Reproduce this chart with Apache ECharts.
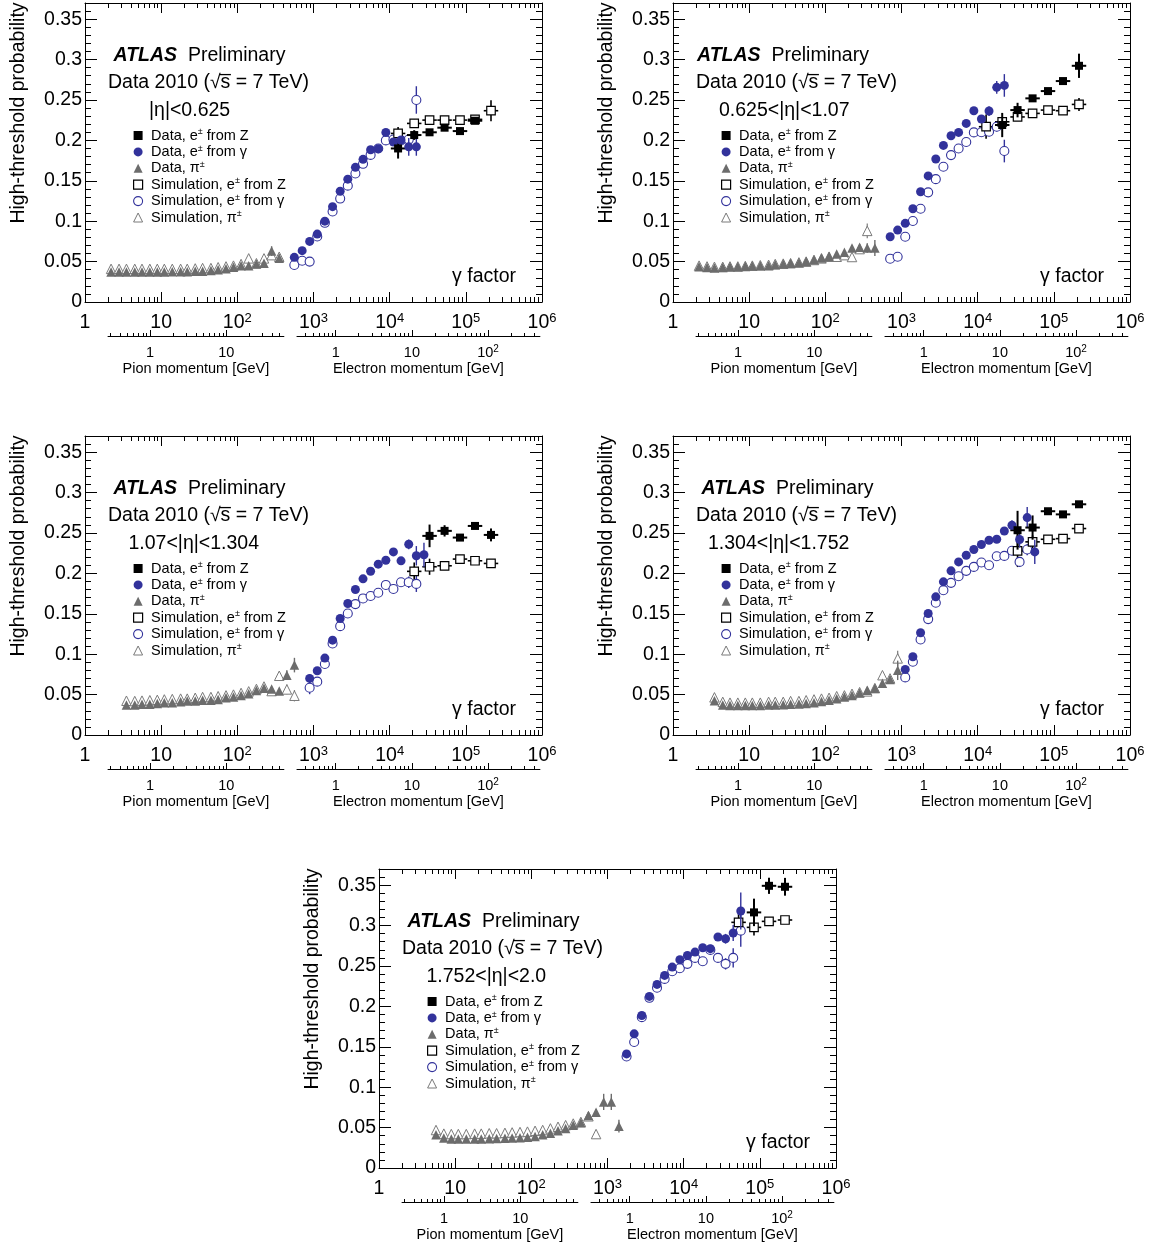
<!DOCTYPE html>
<html>
<head>
<meta charset="utf-8">
<title>TRT high-threshold probability vs gamma factor</title>
<script src="https://cdn.jsdelivr.net/npm/echarts@6/dist/echarts.min.js"></script>
<style>
  html, body { margin: 0; padding: 0; background: #ffffff; }
  #chart { width: 1150px; height: 1247px; }
</style>
</head>
<body>
<div id="chart"></div>
<script>
// ---------------------------------------------------------------------------
// Measured high-threshold hit probability per |eta| region
// ---------------------------------------------------------------------------
const zGamma = [12900, 21000, 33400, 52600, 83800, 132000, 214000];

// |eta| < 0.625
const p1PionGamma = [2.2, 2.8, 3.5, 4.5, 5.6, 7.1, 8.9, 11, 14, 18, 22, 28, 35, 45, 56, 71, 89, 112, 141, 178, 224, 282, 355];
const p1PionData = [0.037, 0.037, 0.037, 0.037, 0.037, 0.037, 0.037, 0.037, 0.0375, 0.0375, 0.0375, 0.038, 0.038, 0.039, 0.040, 0.041, 0.043, 0.045, 0.045, 0.047, 0.048, 0.063, 0.054];
const p1PionDataErr = [0, 0, 0, 0, 0, 0, 0, 0, 0, 0, 0, 0, 0, 0, 0, 0, 0, 0, 0, 0, 0.002, 0.006, 0.005];
const p1PionSim = [0.041, 0.041, 0.041, 0.041, 0.041, 0.041, 0.041, 0.041, 0.041, 0.041, 0.041, 0.0415, 0.042, 0.042, 0.043, 0.044, 0.045, 0.047, 0.054, 0.048, 0.054, 0.058, 0.056];
const p1PionSimErr = [0, 0, 0, 0, 0, 0, 0, 0, 0, 0, 0, 0, 0, 0, 0, 0, 0, 0, 0, 0, 0, 0.004, 0.004];
const p1ElecGamma = [560, 710, 890, 1120, 1410, 1780, 2240, 2820, 3550, 4470, 5620, 7080, 8910, 11200, 14100, 17800, 22400];
const p1ElecData = [0.0553, 0.0635, 0.075, 0.084, 0.100, 0.118, 0.137, 0.152, 0.1666, 0.1765, 0.1884, 0.1897, 0.2099, 0.198, 0.2004, 0.192, 0.192];
const p1ElecDataErr = [0.002, 0.002, 0.001, 0.001, 0.001, 0.001, 0.001, 0.001, 0.001, 0.001, 0.001, 0.001, 0.002, 0.003, 0.005, 0.011, 0.011];
const p1ElecSim = [0.0458, 0.051, 0.050, 0.081, 0.098, 0.112, 0.128, 0.144, 0.159, 0.171, 0.182, 0.190, 0.200, 0.201, 0.200, 0.201, 0.250];
const p1ElecSimErr = [0.002, 0.002, 0.001, 0.001, 0.001, 0.001, 0.001, 0.001, 0.001, 0.001, 0.001, 0.001, 0.002, 0.003, 0.004, 0.005, 0.017];
const p1ZData = [0.190, 0.2066, 0.210, 0.2157, 0.2115, 0.2243, null];
const p1ZDataErr = [0.0125, 0.006, 0.003, 0.003, 0.003, 0.004, 0];
const p1ZSim = [0.2086, 0.221, 0.2251, 0.2251, 0.2251, 0.226, 0.2367];
const p1ZSimErr = [0.008, 0.005, 0.002, 0.002, 0.002, 0.003, 0.013];

// 0.625 < |eta| < 1.07
const p2PionGamma = [2.2, 2.8, 3.5, 4.5, 5.6, 7.1, 8.9, 11, 14, 18, 22, 28, 35, 45, 56, 71, 89, 112, 141, 178, 224, 282, 355, 447];
const p2PionData = [0.0437, 0.0428, 0.0421, 0.0428, 0.0437, 0.0437, 0.0441, 0.0445, 0.0449, 0.0449, 0.0462, 0.047, 0.048, 0.0487, 0.050, 0.0524, 0.0545, 0.0566, 0.0594, 0.0615, 0.0668, 0.0676, 0.0668, 0.0668];
const p2PionDataErr = [0, 0, 0, 0, 0, 0, 0, 0, 0, 0, 0, 0, 0, 0, 0, 0, 0, 0, 0, 0.002, 0.003, 0.004, 0.006, 0.010];
const p2PionSim = [0.045, 0.044, 0.0435, 0.0435, 0.044, 0.044, 0.0445, 0.045, 0.0455, 0.046, 0.047, 0.0475, 0.048, 0.049, 0.050, 0.052, 0.054, 0.056, 0.056, 0.058, 0.0557, 0.0655, 0.088, null];
const p2PionSimErr = [0, 0, 0, 0, 0, 0, 0, 0, 0, 0, 0, 0, 0, 0, 0, 0, 0, 0, 0, 0, 0.003, 0.005, 0.009, 0];
const p2ElecGamma = [710, 890, 1120, 1410, 1780, 2240, 2820, 3550, 4470, 5620, 7080, 8910, 11200, 14100, 17800, 22400];
const p2ElecData = [0.0808, 0.089, 0.0973, 0.1154, 0.1365, 0.156, 0.177, 0.1938, 0.2057, 0.2099, 0.221, 0.2367, 0.2264, 0.2363, 0.2656, 0.268];
const p2ElecDataErr = [0.002, 0.002, 0.002, 0.001, 0.001, 0.001, 0.001, 0.001, 0.001, 0.001, 0.002, 0.002, 0.005, 0.006, 0.008, 0.014];
const p2ElecSim = [0.0536, 0.056, 0.0808, 0.1002, 0.1154, 0.1357, 0.152, 0.1674, 0.1818, 0.190, 0.198, 0.2099, 0.21, 0.2107, 0.2169, 0.1868];
const p2ElecSimErr = [0.002, 0.002, 0.002, 0.001, 0.001, 0.001, 0.001, 0.001, 0.001, 0.001, 0.002, 0.002, 0.003, 0.004, 0.006, 0.014];
const p2ZData = [null, 0.219, 0.2375, 0.252, 0.261, 0.2734, 0.2923];
const p2ZDataErr = [0, 0.015, 0.009, 0.004, 0.003, 0.003, 0.015];
const p2ZSim = [0.2169, 0.223, 0.229, 0.2334, 0.2375, 0.2367, 0.2445];
const p2ZSimErr = [0.015, 0.006, 0.004, 0.003, 0.003, 0.003, 0.008];

// 1.07 < |eta| < 1.304
const p3PionGamma = [3.5, 4.5, 5.6, 7.1, 8.9, 11, 14, 18, 22, 28, 35, 45, 56, 71, 89, 112, 141, 178, 224, 282, 355, 447, 562];
const p3PionData = [0.037, 0.037, 0.038, 0.038, 0.039, 0.040, 0.040, 0.041, 0.042, 0.042, 0.043, 0.043, 0.044, 0.046, 0.047, 0.049, 0.051, 0.055, 0.058, 0.057, 0.0545, 0.074, 0.0865];
const p3PionDataErr = [0, 0, 0, 0, 0, 0, 0, 0, 0, 0, 0, 0, 0, 0, 0, 0, 0, 0, 0, 0, 0, 0.006, 0.009];
const p3PionSim = [0.0424, 0.042, 0.0425, 0.043, 0.0435, 0.044, 0.0445, 0.045, 0.045, 0.046, 0.047, 0.047, 0.048, 0.049, 0.050, 0.052, 0.054, 0.057, 0.060, 0.0544, 0.0733, 0.0564, 0.0486];
const p3PionSimErr = [0, 0, 0, 0, 0, 0, 0, 0, 0, 0, 0, 0, 0, 0, 0, 0, 0, 0, 0, 0, 0.004, 0.006, 0.007];
const p3ElecGamma = [890, 1120, 1410, 1780, 2240, 2820, 3550, 4470, 5620, 7080, 8910, 11200, 14100, 17800, 22400, 28200];
const p3ElecData = [0.070, 0.0795, 0.0952, 0.1174, 0.1442, 0.1627, 0.180, 0.1932, 0.2027, 0.2114, 0.2163, 0.2266, 0.2155, 0.236, 0.2218, 0.223];
const p3ElecDataErr = [0.005, 0.002, 0.002, 0.001, 0.001, 0.001, 0.001, 0.001, 0.001, 0.001, 0.002, 0.002, 0.003, 0.006, 0.012, 0.015];
const p3ElecSim = [0.0585, 0.066, 0.0878, 0.1133, 0.1347, 0.1504, 0.162, 0.169, 0.172, 0.176, 0.1857, 0.1807, 0.189, 0.189, 0.187, null];
const p3ElecSimErr = [0.008, 0.003, 0.002, 0.001, 0.001, 0.001, 0.001, 0.001, 0.001, 0.001, 0.002, 0.002, 0.004, 0.007, 0.010, 0];
const p3ZData = [null, null, 0.2464, 0.2526, 0.2443, 0.2587, 0.2476];
const p3ZDataErr = [0, 0, 0.014, 0.007, 0.003, 0.003, 0.008];
const p3ZSim = [null, 0.2025, 0.2082, 0.2094, 0.2177, 0.2156, 0.2123];
const p3ZSimErr = [0, 0.011, 0.010, 0.004, 0.003, 0.003, 0.004];

// 1.304 < |eta| < 1.752
const p4PionGamma = [3.5, 4.5, 5.6, 7.1, 8.9, 11, 14, 18, 22, 28, 35, 45, 56, 71, 89, 112, 141, 178, 224, 282, 355, 447, 562, 708, 891];
const p4PionData = [0.0424, 0.037, 0.0365, 0.0365, 0.0365, 0.0365, 0.0365, 0.037, 0.037, 0.0375, 0.038, 0.0385, 0.039, 0.040, 0.0415, 0.043, 0.045, 0.047, 0.049, 0.052, 0.0555, 0.058, 0.0639, 0.0688, 0.080];
const p4PionDataErr = [0, 0, 0, 0, 0, 0, 0, 0, 0, 0, 0, 0, 0, 0, 0, 0, 0, 0, 0, 0, 0, 0, 0.003, 0.004, 0.012];
const p4PionSim = [0.0466, 0.041, 0.040, 0.040, 0.040, 0.040, 0.040, 0.041, 0.041, 0.041, 0.042, 0.042, 0.043, 0.044, 0.045, 0.046, 0.048, 0.049, 0.051, 0.053, 0.054, 0.058, 0.074, 0.070, 0.0948];
const p4PionSimErr = [0, 0, 0, 0, 0, 0, 0, 0, 0, 0, 0, 0, 0, 0, 0, 0, 0, 0, 0, 0, 0, 0, 0.004, 0.004, 0.0096];
const p4ElecGamma = [1120, 1410, 1780, 2240, 2820, 3550, 4470, 5620, 7080, 8910, 11200, 14100, 17800, 22400, 28200, 35500, 44700, 56200];
const p4ElecData = [0.0812, 0.0968, 0.1265, 0.1504, 0.171, 0.1895, 0.2031, 0.2142, 0.2225, 0.2295, 0.2357, 0.241, 0.2423, 0.2525, 0.2596, 0.2419, 0.269, 0.2266];
const p4ElecDataErr = [0.002, 0.002, 0.001, 0.001, 0.001, 0.001, 0.001, 0.001, 0.001, 0.001, 0.002, 0.002, 0.002, 0.003, 0.006, 0.010, 0.013, 0.015];
const p4ElecSim = [0.0713, 0.0906, 0.1182, 0.1434, 0.1636, 0.1792, 0.1883, 0.1965, 0.2031, 0.208, 0.2134, 0.210, 0.2212, 0.2216, 0.228, 0.2142, 0.2295, null];
const p4ElecSimErr = [0.002, 0.002, 0.001, 0.001, 0.001, 0.001, 0.001, 0.001, 0.001, 0.001, 0.002, 0.002, 0.002, 0.003, 0.004, 0.006, 0.007, 0];
const p4ZData = [null, null, 0.2534, 0.2567, 0.2769, 0.273, 0.2855];
const p4ZDataErr = [0, 0, 0.024, 0.015, 0.004, 0.003, 0.004];
const p4ZSim = [null, null, 0.2278, 0.239, 0.2422, 0.243, 0.2555];
const p4ZSimErr = [0, 0, 0.020, 0.008, 0.003, 0.003, 0.003];

// 1.752 < |eta| < 2.0
const p5PionGamma = [5.6, 7.1, 8.9, 11, 14, 18, 22, 28, 35, 45, 56, 71, 89, 112, 141, 178, 224, 282, 355, 447, 562, 708, 891, 1122, 1413];
const p5PionData = [0.0413, 0.037, 0.036, 0.036, 0.036, 0.036, 0.036, 0.0362, 0.0365, 0.0368, 0.037, 0.0375, 0.038, 0.039, 0.041, 0.043, 0.046, 0.049, 0.053, 0.056, 0.065, 0.069, 0.0818, 0.0818, 0.0518];
const p5PionDataErr = [0, 0, 0, 0, 0, 0, 0, 0, 0, 0, 0, 0, 0, 0, 0, 0, 0, 0, 0, 0, 0, 0.004, 0.010, 0.010, 0.008];
const p5PionSim = [0.047, 0.0425, 0.042, 0.042, 0.042, 0.0425, 0.0425, 0.043, 0.043, 0.0435, 0.044, 0.0445, 0.045, 0.046, 0.047, 0.049, 0.051, 0.053, 0.055, 0.057, 0.064, 0.042, null, null, null];
const p5PionSimErr = [0, 0, 0, 0, 0, 0, 0, 0, 0, 0, 0, 0, 0, 0, 0, 0, 0, 0, 0, 0, 0.003, 0.003, 0, 0, 0];
const p5ElecGamma = [1780, 2240, 2820, 3550, 4470, 5620, 7080, 8910, 11200, 14100, 17800, 22400, 28200, 35500, 44700, 56200];
const p5ElecData = [0.1412, 0.166, 0.1887, 0.2123, 0.2272, 0.2383, 0.2486, 0.2577, 0.2631, 0.2672, 0.2726, 0.2714, 0.2858, 0.2837, 0.2908, 0.318];
const p5ElecDataErr = [0.002, 0.002, 0.002, 0.001, 0.001, 0.001, 0.001, 0.001, 0.002, 0.002, 0.002, 0.003, 0.004, 0.006, 0.010, 0.023];
const p5ElecSim = [0.138, 0.1559, 0.1867, 0.2106, 0.223, 0.234, 0.2435, 0.2472, 0.2526, 0.26, 0.2558, 0.2699, 0.26, 0.2526, 0.26, 0.2937];
const p5ElecSimErr = [0.002, 0.002, 0.002, 0.001, 0.001, 0.001, 0.001, 0.001, 0.002, 0.002, 0.002, 0.003, 0.004, 0.007, 0.012, 0.020];
const p5ZData = [null, null, null, null, 0.3163, 0.3492, 0.348];
const p5ZDataErr = [0, 0, 0, 0, 0.017, 0.010, 0.011];
const p5ZSim = [null, null, null, 0.304, 0.2978, 0.3052, 0.3069];
const p5ZSimErr = [0, 0, 0, 0.012, 0.010, 0.004, 0.005];

// Axis tick values
const yTickLabels = [0, 0.05, 0.1, 0.15, 0.2, 0.25, 0.3, 0.35];
const pionMomentumMajor = [1, 10];
const pionMomentumMinor = [0.3, 0.4, 0.5, 0.6, 0.7, 0.8, 0.9, 2, 3, 4, 5, 6, 7, 8, 9, 20, 30, 40, 50];
const electronMomentumMajor = [1, 10, 100];
const electronMomentumMinor = [0.4, 0.5, 0.6, 0.7, 0.8, 0.9, 2, 3, 4, 5, 6, 7, 8, 9, 20, 30, 40, 50, 60, 70, 80, 90, 200, 300, 400];
const etaLabels = ['|η|<0.625', '0.625<|η|<1.07', '1.07<|η|<1.304', '1.304<|η|<1.752', '1.752<|η|<2.0'];

// ---------------------------------------------------------------------------
// Physics constants and layout
// ---------------------------------------------------------------------------
const PION_MASS = 0.13957;        // GeV
const ELECTRON_MASS = 0.000511;   // GeV
const PION_P_RANGE = [0.28, 57];
const ELECTRON_P_RANGE = [0.31, 480];
const Y_MAX = 0.37;
const Z_BIN_HALF_DEX = 0.095;

const CHART_W = 1150;
const FONT = 'Liberation Sans';
const BLUE = '#32329b';
const GREY = '#6c6c6c';
const GREY_SIM = '#7a7a7a';
const PANEL_ORIGINS = [[0, 0], [588, 0], [0, 433], [588, 433], [294, 866]];
const FRAME = { left: 85, top: 3, width: 457, height: 299 };
const ATLAS_X = [28.5, 24, 28.5, 28.5, 28.5];
const ETA_X = [64, 46, 43.5, 35, 47.5];

const panels = [
  { pionGamma: p1PionGamma, pionData: p1PionData, pionDataErr: p1PionDataErr, pionSim: p1PionSim, pionSimErr: p1PionSimErr,
    elecGamma: p1ElecGamma, elecData: p1ElecData, elecDataErr: p1ElecDataErr, elecSim: p1ElecSim, elecSimErr: p1ElecSimErr,
    zData: p1ZData, zDataErr: p1ZDataErr, zSim: p1ZSim, zSimErr: p1ZSimErr },
  { pionGamma: p2PionGamma, pionData: p2PionData, pionDataErr: p2PionDataErr, pionSim: p2PionSim, pionSimErr: p2PionSimErr,
    elecGamma: p2ElecGamma, elecData: p2ElecData, elecDataErr: p2ElecDataErr, elecSim: p2ElecSim, elecSimErr: p2ElecSimErr,
    zData: p2ZData, zDataErr: p2ZDataErr, zSim: p2ZSim, zSimErr: p2ZSimErr },
  { pionGamma: p3PionGamma, pionData: p3PionData, pionDataErr: p3PionDataErr, pionSim: p3PionSim, pionSimErr: p3PionSimErr,
    elecGamma: p3ElecGamma, elecData: p3ElecData, elecDataErr: p3ElecDataErr, elecSim: p3ElecSim, elecSimErr: p3ElecSimErr,
    zData: p3ZData, zDataErr: p3ZDataErr, zSim: p3ZSim, zSimErr: p3ZSimErr },
  { pionGamma: p4PionGamma, pionData: p4PionData, pionDataErr: p4PionDataErr, pionSim: p4PionSim, pionSimErr: p4PionSimErr,
    elecGamma: p4ElecGamma, elecData: p4ElecData, elecDataErr: p4ElecDataErr, elecSim: p4ElecSim, elecSimErr: p4ElecSimErr,
    zData: p4ZData, zDataErr: p4ZDataErr, zSim: p4ZSim, zSimErr: p4ZSimErr },
  { pionGamma: p5PionGamma, pionData: p5PionData, pionDataErr: p5PionDataErr, pionSim: p5PionSim, pionSimErr: p5PionSimErr,
    elecGamma: p5ElecGamma, elecData: p5ElecData, elecDataErr: p5ElecDataErr, elecSim: p5ElecSim, elecSimErr: p5ElecSimErr,
    zData: p5ZData, zDataErr: p5ZDataErr, zSim: p5ZSim, zSimErr: p5ZSimErr }
];

const SERIES_NAMES = {
  zData: 'Data, e± from Z',
  gData: 'Data, e± from γ',
  piData: 'Data, π±',
  zSim: 'Simulation, e± from Z',
  gSim: 'Simulation, e± from γ',
  piSim: 'Simulation, π±'
};
const LEGEND_ORDER = ['zData', 'gData', 'piData', 'zSim', 'gSim', 'piSim'];

const OPEN_FILL = 'rgba(255,255,255,1)';
const MARKERS = {
  piSim:  { symbol: 'triangle', size: 9.5, z: 2, item: { color: OPEN_FILL, borderColor: GREY_SIM, borderWidth: 1 },   err: GREY_SIM, errW: 1.2 },
  gSim:   { symbol: 'circle',   size: 9,   z: 2, item: { color: OPEN_FILL, borderColor: BLUE, borderWidth: 1.1 },     err: BLUE, errW: 1.4 },
  zSim:   { symbol: 'rect',     size: 8.5, z: 2, item: { color: OPEN_FILL, borderColor: '#000', borderWidth: 1.2 },   err: '#000', errW: 1.6 },
  piData: { symbol: 'triangle', size: 9.5, z: 4, item: { color: GREY },  err: GREY, errW: 1.4 },
  gData:  { symbol: 'circle',   size: 9,   z: 4, item: { color: BLUE },  err: BLUE, errW: 1.4 },
  zData:  { symbol: 'rect',     size: 8,   z: 4, item: { color: '#000' }, err: '#000', errW: 2 }
};

// ---------------------------------------------------------------------------
// Helpers
// ---------------------------------------------------------------------------
function toPoints(gammas, values, errs, halfDex) {
  const out = [];
  gammas.forEach((g, k) => {
    if (values[k] !== null && values[k] !== undefined) out.push([g, values[k], errs[k] || 0, halfDex]);
  });
  return out;
}

function errorBarRenderer(color, width) {
  return function (params, api) {
    const g = api.value(0), v = api.value(1), e = api.value(2), h = api.value(3);
    const style = { stroke: color, lineWidth: width };
    const children = [];
    if (e > 0) {
      const a = api.coord([g, v - e]), b = api.coord([g, v + e]);
      children.push({ type: 'line', shape: { x1: a[0], y1: a[1], x2: b[0], y2: b[1] }, style });
    }
    if (h > 0) {
      const a = api.coord([g * Math.pow(10, -h), v]), b = api.coord([g * Math.pow(10, h), v]);
      children.push({ type: 'line', shape: { x1: a[0], y1: a[1], x2: b[0], y2: b[1] }, style });
    }
    return { type: 'group', children };
  };
}

const gammaLabel = (v) => {
  const e = Math.round(Math.log10(v));
  if (e === 0) return '{b|1}';
  if (e === 1) return '{b|10}';
  return '{b|10}{s|' + e + '}';
};
const momentumLabel = (v) => {
  const e = Math.round(v);
  if (e === 0) return '{b|1}';
  if (e === 1) return '{b|10}';
  return '{b|10}{s|' + e + '}';
};

const bigRich = {
  b: { fontFamily: FONT, fontSize: 19.5, lineHeight: 22, color: '#000' },
  s: { fontFamily: FONT, fontSize: 13, lineHeight: 8, verticalAlign: 'top', color: '#000' }
};
const smallRich = {
  b: { fontFamily: FONT, fontSize: 14.5, lineHeight: 17, color: '#000' },
  s: { fontFamily: FONT, fontSize: 10, lineHeight: 6, verticalAlign: 'top', color: '#000' }
};

// minor tick positions in decades for the gamma axis
const gammaMinorDex = [];
for (let k = 0; k < 6; k++) for (let m = 2; m <= 9; m++) gammaMinorDex.push(k + Math.log10(m));
const yMinorTicks = [];
for (let v = 1; v <= 36; v++) if (v % 5 !== 0) yMinorTicks.push(v / 100);

const axisLineOn = { show: true, onZero: false, lineStyle: { color: '#000', width: 1 } };
const axisLineOff = { show: false, onZero: false };
const tickStyle = { color: '#000', width: 1 };

// ---------------------------------------------------------------------------
// Build option
// ---------------------------------------------------------------------------
const option = {
  animation: false,
  backgroundColor: '#ffffff',
  textStyle: { fontFamily: FONT },
  grid: [], xAxis: [], yAxis: [], series: [], title: [], legend: []
};
const addX = (a) => option.xAxis.push(a) - 1;
const addY = (a) => option.yAxis.push(a) - 1;
const addGrid = (g) => option.grid.push(Object.assign({ containLabel: false, outerBoundsMode: 'none' }, g)) - 1;

function minorX(gridIndex, position, min, max, values, length) {
  return addX({
    type: 'value', gridIndex, position, min, max,
    axisLine: axisLineOff,
    axisTick: { show: true, inside: true, length, customValues: values, lineStyle: tickStyle },
    axisLabel: { show: false }, splitLine: { show: false }, minorTick: { show: false }
  });
}
function tickY(gridIndex, position, values, length, withLine) {
  return addY({
    type: 'value', gridIndex, position, min: 0, max: Y_MAX,
    axisLine: withLine ? axisLineOn : axisLineOff,
    axisTick: { show: true, inside: true, length, customValues: values, lineStyle: tickStyle },
    axisLabel: { show: false }, splitLine: { show: false }, minorTick: { show: false }
  });
}

panels.forEach((pd, i) => {
  const [ox, oy] = PANEL_ORIGINS[i];
  const L = ox + FRAME.left, T = oy + FRAME.top, W = FRAME.width, H = FRAME.height;
  const pxPerDex = W / 6;

  const gMain = addGrid({ left: L, top: T, width: W, height: H });
  const momTop = T + H + 33;
  const pionL = L + Math.log10(PION_P_RANGE[0] / PION_MASS) * pxPerDex;
  const pionR = L + Math.log10(PION_P_RANGE[1] / PION_MASS) * pxPerDex;
  const elecL = L + Math.log10(ELECTRON_P_RANGE[0] / ELECTRON_MASS) * pxPerDex;
  const elecR = L + Math.log10(ELECTRON_P_RANGE[1] / ELECTRON_MASS) * pxPerDex;
  const gPion = addGrid({ left: pionL, top: momTop, width: pionR - pionL, height: 1 });
  const gElec = addGrid({ left: elecL, top: momTop, width: elecR - elecL, height: 1 });

  // gamma factor axis (data axis) with decade ticks and labels
  const xData = addX({
    type: 'log', logBase: 10, min: 1, max: 1e6, gridIndex: gMain, position: 'bottom',
    axisLine: axisLineOn,
    axisTick: { show: true, inside: true, length: 10, lineStyle: tickStyle },
    minorTick: { show: false }, splitLine: { show: false },
    axisLabel: { show: true, margin: 10, showMinLabel: true, showMaxLabel: true, formatter: gammaLabel, rich: bigRich }
  });
  minorX(gMain, 'bottom', 0, 6, gammaMinorDex, 5);
  addX({
    type: 'log', logBase: 10, min: 1, max: 1e6, gridIndex: gMain, position: 'top',
    axisLine: axisLineOn,
    axisTick: { show: true, inside: true, length: 10, lineStyle: tickStyle },
    minorTick: { show: false }, splitLine: { show: false }, axisLabel: { show: false }
  });
  minorX(gMain, 'top', 0, 6, gammaMinorDex, 5);

  // probability axis
  const yData = addY({
    type: 'value', gridIndex: gMain, position: 'left', min: 0, max: Y_MAX,
    axisLine: axisLineOn,
    axisTick: { show: true, inside: true, length: 12, customValues: yTickLabels, lineStyle: tickStyle },
    axisLabel: { show: true, customValues: yTickLabels, margin: 3, color: '#000', fontFamily: FONT, fontSize: 19.5, formatter: (v) => String(v) },
    splitLine: { show: false }, minorTick: { show: false },
    name: 'High-threshold probability', nameLocation: 'middle', nameRotate: 90, nameGap: 56,
    nameTextStyle: { fontFamily: FONT, fontSize: 19.5, color: '#000', padding: [0, 0, 0, 79] }
  });
  tickY(gMain, 'left', yMinorTicks, 6, false);
  tickY(gMain, 'right', yTickLabels, 12, true);
  tickY(gMain, 'right', yMinorTicks, 6, false);

  // momentum axes below the gamma axis
  addY({ type: 'value', gridIndex: gPion, min: 0, max: 1, show: false });
  addY({ type: 'value', gridIndex: gElec, min: 0, max: 1, show: false });
  const momAxis = (gridIndex, range, major, name) => addX({
    type: 'value', gridIndex, position: 'bottom', min: Math.log10(range[0]), max: Math.log10(range[1]),
    axisLine: axisLineOn,
    axisTick: { show: true, inside: true, length: 6, customValues: major.map(Math.log10), lineStyle: tickStyle },
    axisLabel: { show: true, customValues: major.map(Math.log10), margin: 8, formatter: momentumLabel, rich: smallRich },
    splitLine: { show: false }, minorTick: { show: false },
    name, nameLocation: 'middle', nameGap: 25,
    nameTextStyle: { fontFamily: FONT, fontSize: 14.5, color: '#000' }
  });
  momAxis(gPion, PION_P_RANGE, pionMomentumMajor, 'Pion momentum [GeV]');
  minorX(gPion, 'bottom', Math.log10(PION_P_RANGE[0]), Math.log10(PION_P_RANGE[1]), pionMomentumMinor.map(Math.log10), 3);
  momAxis(gElec, ELECTRON_P_RANGE, electronMomentumMajor, 'Electron momentum [GeV]');
  minorX(gElec, 'bottom', Math.log10(ELECTRON_P_RANGE[0]), Math.log10(ELECTRON_P_RANGE[1]), electronMomentumMinor.map(Math.log10), 3);

  // measurements
  const sets = {
    piSim: toPoints(pd.pionGamma, pd.pionSim, pd.pionSimErr, 0),
    gSim: toPoints(pd.elecGamma, pd.elecSim, pd.elecSimErr, 0),
    zSim: toPoints(zGamma, pd.zSim, pd.zSimErr, Z_BIN_HALF_DEX),
    piData: toPoints(pd.pionGamma, pd.pionData, pd.pionDataErr, 0),
    gData: toPoints(pd.elecGamma, pd.elecData, pd.elecDataErr, 0),
    zData: toPoints(zGamma, pd.zData, pd.zDataErr, Z_BIN_HALF_DEX)
  };
  ['piSim', 'gSim', 'zSim', 'piData', 'gData', 'zData'].forEach((key) => {
    const m = MARKERS[key];
    option.series.push({
      type: 'custom', name: 'err-' + key + '-' + i, xAxisIndex: xData, yAxisIndex: yData,
      data: sets[key], encode: { x: 0, y: 1 }, z: m.z - 1, silent: true,
      renderItem: errorBarRenderer(m.err, m.errW)
    });
    option.series.push({
      type: 'scatter', name: SERIES_NAMES[key], xAxisIndex: xData, yAxisIndex: yData,
      data: sets[key].map((p) => [p[0], p[1]]), symbol: m.symbol, symbolSize: m.size,
      itemStyle: Object.assign({ opacity: 1 }, m.item), z: m.z, silent: true
    });
  });

  // annotations
  const textBase = { fontFamily: FONT, fontSize: 19.5, fontWeight: 'normal', color: '#000', lineHeight: 24 };
  option.title.push({
    left: L + ATLAS_X[i], top: T + 52.5 - 12, padding: 0,
    text: '{a|ATLAS}{p|  Preliminary}',
    textStyle: { rich: {
      a: Object.assign({}, textBase, { fontWeight: 'bold', fontStyle: 'italic' }),
      p: textBase
    } }
  });
  option.title.push({
    left: L + 23, top: T + 79.5 - 12, padding: 0,
    text: 'Data 2010 (√s\u0305 = 7 TeV)', textStyle: textBase
  });
  option.title.push({
    left: L + ETA_X[i], top: T + 107.5 - 12, padding: 0,
    text: etaLabels[i], textStyle: textBase
  });
  option.title.push({
    right: CHART_W - (L + W - 26), top: T + 273.5 - 12, padding: 0,
    text: 'γ factor', textStyle: textBase
  });

  option.legend.push({
    show: true, orient: 'vertical', left: L + 48, top: T + 132.5 - 8.2, padding: 0,
    itemGap: 0, itemWidth: 9, itemHeight: 9, selectedMode: false,
    data: LEGEND_ORDER.map((k) => SERIES_NAMES[k]),
    itemStyle: { borderWidth: 'inherit' },
    formatter: (n) => n.replace('±', '{sup|±}'),
    textStyle: {
      fontFamily: FONT, fontSize: 14.5, color: '#000', lineHeight: 16.4, padding: [0, 0, 0, 3.5],
      rich: { sup: { fontFamily: FONT, fontSize: 9, lineHeight: 6, verticalAlign: 'top', color: '#000' } }
    }
  });
});

const chart = echarts.init(document.getElementById('chart'), null, { renderer: 'canvas' });
chart.setOption(option);
</script>
</body>
</html>
